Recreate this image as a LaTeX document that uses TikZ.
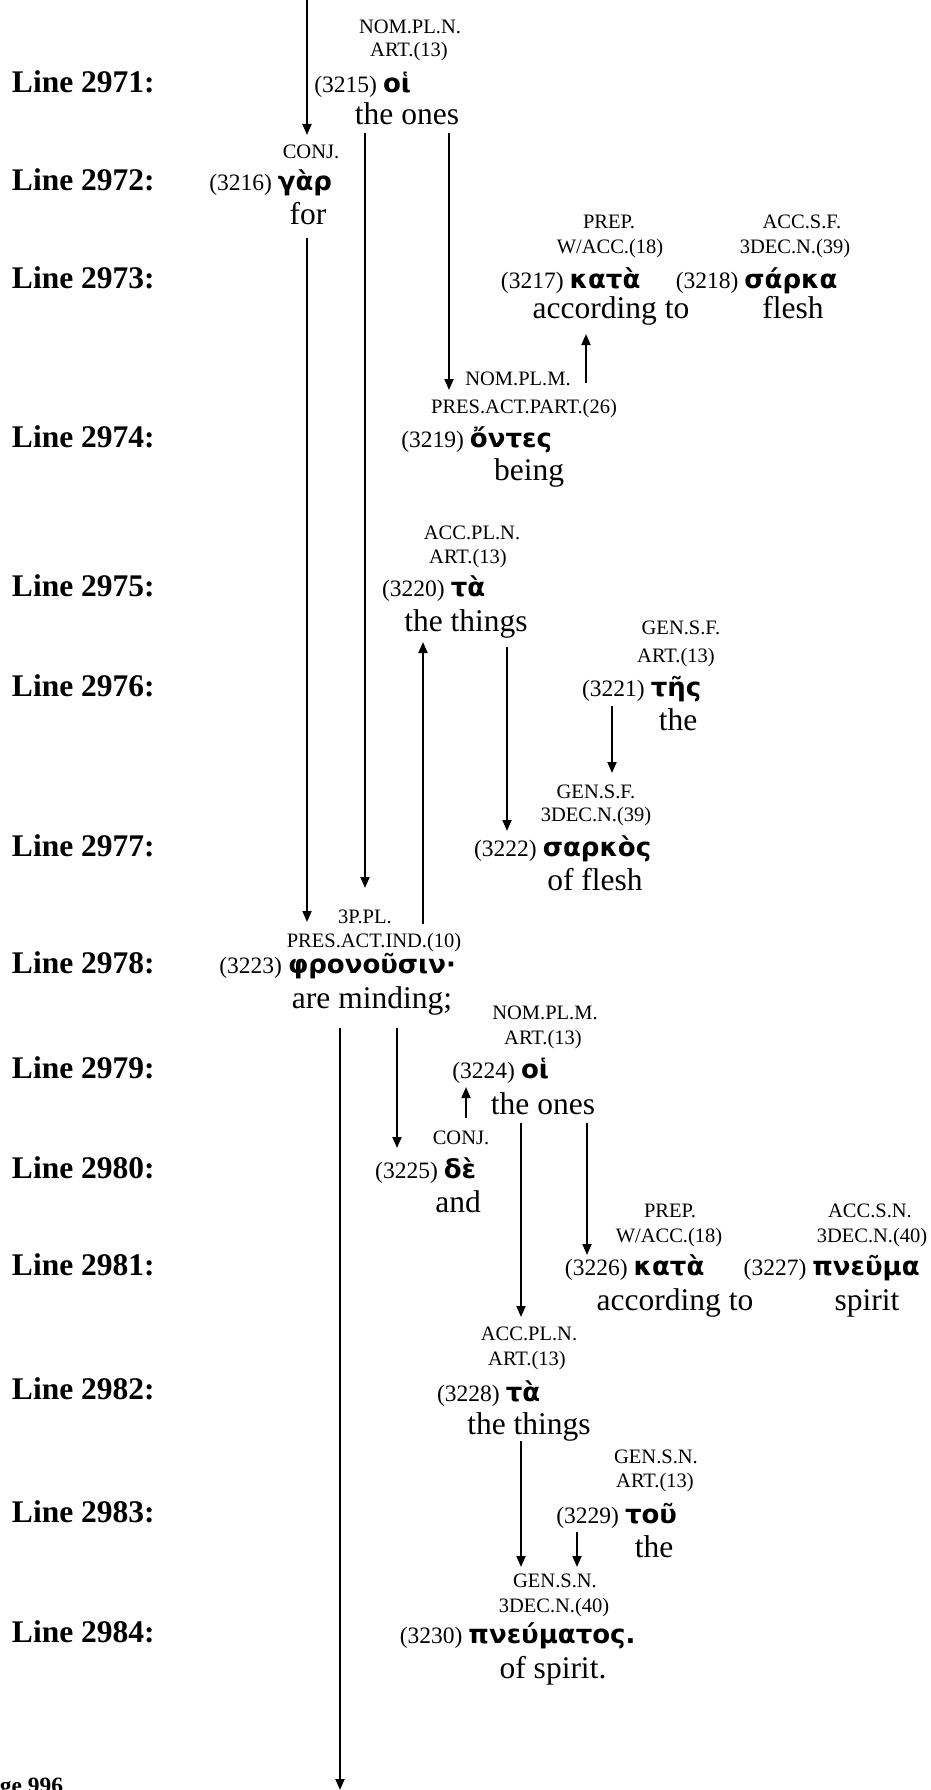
\documentclass[tikz,border=0pt]{standalone}
\usepackage{fontspec}
\setmainfont{Liberation Serif}
\newfontfamily\grkfont{DejaVu Sans}
\usetikzlibrary{arrows.meta}
\tikzset{
  every node/.style={inner sep=0pt, outer sep=0pt},
  lab/.style={font=\fontsize{31.5}{32}\selectfont\bfseries, anchor=base west},
  morph/.style={font=\fontsize{20.5}{21}\selectfont, anchor=base},
  num/.style={font=\fontsize{23.5}{24}\selectfont, anchor=base east},
  grk/.style={font=\grkfont\bfseries\fontsize{26}{27}\selectfont, anchor=base},
  gloss/.style={font=\fontsize{31.5}{32}\selectfont, anchor=base},
  arr/.style={line width=1.8pt, -{Triangle[length=11pt,width=9pt]}},
}
\newcommand\numof[2]{\node[num] (n#1) at ([xshift=-6pt]g#1.base west) {(#2)};}
\begin{document}
\begin{tikzpicture}[x=1pt,y=-1pt]
\useasboundingbox (0,0) rectangle (930,1790);
\clip (0,0) rectangle (930,1790);
\fill[white] (0,0) rectangle (930,1790);

% line labels
\node[lab] (L2971) at (12,93) {Line 2971:};
\node[lab] (L2972) at (12,191) {Line 2972:};
\node[lab] (L2973) at (12,288) {Line 2973:};
\node[lab] (L2974) at (12,447) {Line 2974:};
\node[lab] (L2975) at (12,596) {Line 2975:};
\node[lab] (L2976) at (12,696) {Line 2976:};
\node[lab] (L2977) at (12,856) {Line 2977:};
\node[lab] (L2978) at (12,973) {Line 2978:};
\node[lab] (L2979) at (12,1078) {Line 2979:};
\node[lab] (L2980) at (12,1178) {Line 2980:};
\node[lab] (L2981) at (12,1275) {Line 2981:};
\node[lab] (L2982) at (12,1399) {Line 2982:};
\node[lab] (L2983) at (12,1522) {Line 2983:};
\node[lab] (L2984) at (12,1642) {Line 2984:};
\node[font=\fontsize{23.4}{24}\selectfont\bfseries, anchor=base east] (page) at (63,1793) {Page 996};

% 3215
\node[morph] (ma3215) at (410,34) {NOM.PL.N.};
\node[morph] (mb3215) at (409,57) {ART.(13)};
\node[grk] (g3215) at (397,93) {οἱ};
\numof{3215}{3215}
\node[gloss] (gl3215) at (407,125) {the ones};
% 3216
\node[morph] (ma3216) at (311,159) {CONJ.};
\node[grk] (g3216) at (305,191) {γὰρ};
\numof{3216}{3216}
\node[gloss] (gl3216) at (308,225) {for};
% 3217
\node[morph] (ma3217) at (609,228) {PREP.};
\node[morph] (mb3217) at (610,253) {W/ACC.(18)};
\node[grk] (g3217) at (605,288) {κατὰ};
\numof{3217}{3217}
\node[gloss] (gl3217) at (611,318) {according to};
% 3218
\node[morph] (ma3218) at (802,228) {ACC.S.F.};
\node[morph] (mb3218) at (795,253) {3DEC.N.(39)};
\node[grk] (g3218) at (791,288) {σάρκα};
\numof{3218}{3218}
\node[gloss] (gl3218) at (793,318) {flesh};
% 3219
\node[morph] (ma3219) at (518,385) {NOM.PL.M.};
\node[morph] (mb3219) at (524,413) {PRES.ACT.PART.(26)};
\node[grk] (g3219) at (511,447) {ὄντες};
\numof{3219}{3219}
\node[gloss] (gl3219) at (529,480) {being};
% 3220
\node[morph] (ma3220) at (472,539) {ACC.PL.N.};
\node[morph] (mb3220) at (468,563) {ART.(13)};
\node[grk] (g3220) at (468,596) {τὰ};
\numof{3220}{3220}
\node[gloss] (gl3220) at (466,631) {the things};
% 3221
\node[morph] (ma3221) at (681,634) {GEN.S.F.};
\node[morph] (mb3221) at (676,662) {ART.(13)};
\node[grk] (g3221) at (676,696) {τῆς};
\numof{3221}{3221}
\node[gloss] (gl3221) at (678,730) {the};
% 3222
\node[morph] (ma3222) at (596,798) {GEN.S.F.};
\node[morph] (mb3222) at (596,821) {3DEC.N.(39)};
\node[grk] (g3222) at (597,856) {σαρκὸς};
\numof{3222}{3222}
\node[gloss] (gl3222) at (595,890) {of flesh};
% 3223
\node[morph] (ma3223) at (365,923) {3P.PL.};
\node[morph] (mb3223) at (374,947) {PRES.ACT.IND.(10)};
\node[grk] (g3223) at (372,973) {φρονοῦσιν·};
\numof{3223}{3223}
\node[gloss] (gl3223) at (372,1008) {are minding;};
% 3224
\node[morph] (ma3224) at (545,1019) {NOM.PL.M.};
\node[morph] (mb3224) at (543,1044) {ART.(13)};
\node[grk] (g3224) at (535,1078) {οἱ};
\numof{3224}{3224}
\node[gloss] (gl3224) at (543,1114) {the ones};
% 3225
\node[morph] (ma3225) at (461,1144) {CONJ.};
\node[grk] (g3225) at (460,1178) {δὲ};
\numof{3225}{3225}
\node[gloss] (gl3225) at (458,1212) {and};
% 3226
\node[morph] (ma3226) at (670,1217) {PREP.};
\node[morph] (mb3226) at (669,1242) {W/ACC.(18)};
\node[grk] (g3226) at (669,1275) {κατὰ};
\numof{3226}{3226}
\node[gloss] (gl3226) at (675,1310) {according to};
% 3227
\node[morph] (ma3227) at (870,1217) {ACC.S.N.};
\node[morph] (mb3227) at (872,1242) {3DEC.N.(40)};
\node[grk] (g3227) at (866,1275) {πνεῦμα};
\numof{3227}{3227}
\node[gloss] (gl3227) at (867,1310) {spirit};
% 3228
\node[morph] (ma3228) at (529,1340) {ACC.PL.N.};
\node[morph] (mb3228) at (527,1365) {ART.(13)};
\node[grk] (g3228) at (523,1401) {τὰ};
\numof{3228}{3228}
\node[gloss] (gl3228) at (529,1434) {the things};
% 3229
\node[morph] (ma3229) at (656,1463) {GEN.S.N.};
\node[morph] (mb3229) at (655,1487) {ART.(13)};
\node[grk] (g3229) at (651,1523) {τοῦ};
\numof{3229}{3229}
\node[gloss] (gl3229) at (654,1557) {the};
% 3230
\node[morph] (ma3230) at (555,1587) {GEN.S.N.};
\node[morph] (mb3230) at (554,1612) {3DEC.N.(40)};
\node[grk] (g3230) at (552,1643) {πνεύματος.};
\numof{3230}{3230}
\node[gloss] (gl3230) at (553,1678) {of spirit.};

% connectors
\coordinate (topin) at (307,-3);
\coordinate (botout) at (340,1790);
\draw[arr, shorten >=56pt] (topin) -- (g3216.base -| topin);
\draw[arr, shorten <=13pt, shorten >=51pt] (gl3216.base -| 307,0) -- (g3223.base -| 307,0);
\draw[arr, shorten <=8pt, shorten >=85pt] (gl3215.base -| 365,0) -- (g3223.base -| 365,0);
\draw[arr, shorten <=8pt, shorten >=57pt] (gl3215.base -| 449,0) -- (g3219.base -| 449,0);
\draw[arr, shorten <=64pt, shorten >=16pt] (g3219.base -| 586,0) -- (gl3217.base -| 586,0);
\draw[arr, shorten <=49pt, shorten >=11pt] (g3223.base -| 423,0) -- (gl3220.base -| 423,0);
\draw[arr, shorten <=16pt, shorten >=25pt] (gl3220.base -| 507,0) -- (g3222.base -| 507,0);
\draw[arr, shorten <=10pt, shorten >=83pt] (g3221.base -| 612,0) -- (g3222.base -| 612,0);
\draw[arr, shorten <=20pt] (gl3223.base -| botout) -- (botout);
\draw[arr, shorten <=20pt, shorten >=30pt] (gl3223.base -| 397,0) -- (g3225.base -| 397,0);
\draw[arr, shorten <=60pt, shorten >=9pt] (g3225.base -| 466,0) -- (g3224.base -| 466,0);
\draw[arr, shorten <=9pt, shorten >=84pt] (gl3224.base -| 521,0) -- (g3228.base -| 521,0);
\draw[arr, shorten <=9pt, shorten >=20pt] (gl3224.base -| 587,0) -- (g3226.base -| 587,0);
\draw[arr, shorten <=7pt, shorten >=76pt] (gl3228.base -| 521,0) -- (g3230.base -| 521,0);
\draw[arr, shorten <=9pt, shorten >=76pt] (g3229.base -| 577,0) -- (g3230.base -| 577,0);
\end{tikzpicture}
\end{document}
